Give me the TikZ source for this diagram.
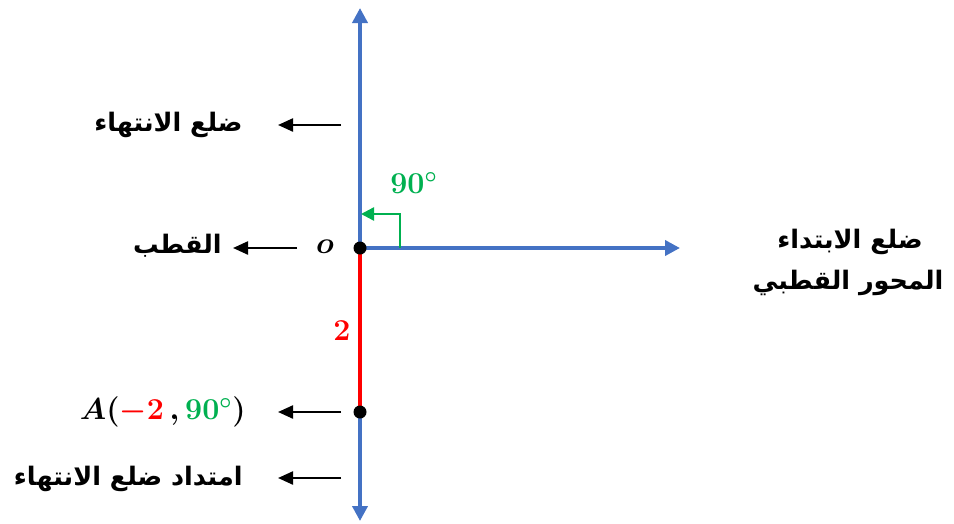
\documentclass[tikz,border=0pt]{standalone}
\usepackage{fontspec}
\usepackage{amsmath}
\usetikzlibrary{arrows.meta}
\TeXXeTstate=1
\newfontfamily\arabicfont[Script=Arabic]{DejaVu Sans}
\definecolor{AxisClr}{RGB}{68,114,196}
\definecolor{RadClr}{RGB}{255,0,0}
\definecolor{AngClr}{RGB}{0,176,80}

\tikzset{
  axis/.style={line width=2.1pt,color=AxisClr,-{Triangle[length=3mm,width=3mm]}},
  pointer/.style={line width=1.3pt,-{Triangle[length=3mm,width=2.6mm]}},
  artext/.style={font=\arabicfont\bfseries\fontsize{14.5}{17}\selectfont,inner sep=0pt},
  mathtext/.style={font=\boldmath\fontsize{17}{20}\selectfont,inner sep=0pt},
  dot/.style={circle,fill=black,inner sep=0pt,minimum size=2.6mm}
}

\begin{document}
\begin{tikzpicture}[x=0.2mm,y=-0.2mm]
\useasboundingbox (0,0) rectangle (954,523);

% points
\coordinate (O) at (360,248);
\coordinate (A) at (360,412);
\coordinate (top) at (360,8);
\coordinate (bot) at (360,521);
\coordinate (right) at (680,248);

% axes
\draw[axis] (O) -- (top);
\draw[axis] (A) -- (bot);
\draw[axis] (O) -- (right);
\draw[line width=2.1pt,color=RadClr] (O) -- (A);
\node[mathtext,text=RadClr] (r) at (342,331) {$2$};

% right angle mark
\coordinate (m1) at (400,248);
\coordinate (m2) at (400,214);
\coordinate (m3) at (361,214);
\draw[line width=1.4pt,color=AngClr,-{Triangle[length=2.6mm,width=2.6mm]}] (m1) -- (m2) -- (m3);
\node[mathtext,text=AngClr] (ang) at (414,183) {$90^\circ$};

\node[dot] (Odot) at (O) {};
\node[dot] (Adot) at (A) {};

% labels left
\node[mathtext] (o) at (325,247) {$o$};

\coordinate (p1) at (341,125);
\coordinate (q1) at (278,125);
\draw[pointer] (p1) -- (q1);
\node[artext,anchor=east] (end) at (243,125) {\beginR ضلع الانتهاء\endR};

\coordinate (p2) at (297,248);
\coordinate (q2) at (233,248);
\draw[pointer] (p2) -- (q2);
\node[artext,anchor=east] (pole) at (222,246) {\beginR القطب\endR};

\coordinate (p3) at (341,412);
\coordinate (q3) at (278,412);
\draw[pointer] (p3) -- (q3);
\node[mathtext,anchor=east] (Alab) at (246,412)
  {$A({\color{RadClr}-2}\,,{\color{AngClr}90^\circ})$};

\coordinate (p4) at (341,478);
\coordinate (q4) at (278,478);
\draw[pointer] (p4) -- (q4);
\node[artext,anchor=east] (ext) at (243,479) {\beginR امتداد ضلع الانتهاء\endR};

% labels right
\node[artext] (init) at (850,242) {\beginR ضلع الابتداء\endR};
\node[artext] (polar) at (848,283) {\beginR المحور القطبي\endR};
\end{tikzpicture}
\end{document}
